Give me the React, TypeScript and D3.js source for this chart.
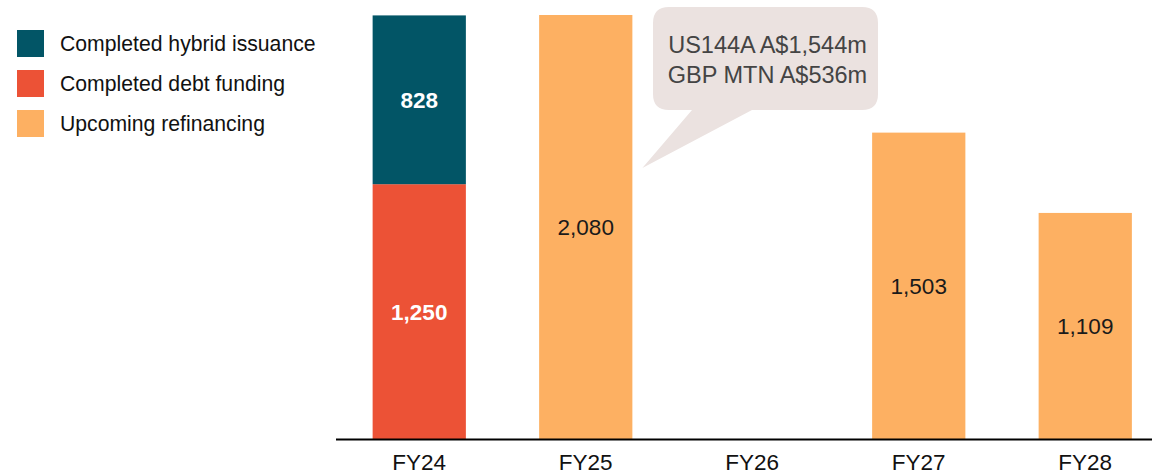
import React from "react";
import * as d3 from "d3";

const categories = ["FY24", "FY25", "FY26", "FY27", "FY28"];
const hybridIssuance = [828, 0, 0, 0, 0];
const debtFunding = [1250, 0, 0, 0, 0];
const upcomingRefinancing = [0, 2080, 0, 1503, 1109];
const seriesNames = ["Completed hybrid issuance", "Completed debt funding", "Upcoming refinancing"];
const seriesColors = ["#025566", "#ec5236", "#fdb062"];
const calloutLines = ["US144A A$1,544m", "GBP MTN A$536m"];

const W = 1152;
const H = 474;
const FONT = "Arial, 'Liberation Sans', sans-serif";

export default function App() {
  const x = d3
    .scaleBand<string>()
    .domain(categories)
    .range([336, 1168.5])
    .paddingInner(0.44)
    .paddingOuter(0.22);
  const y = d3.scaleLinear().domain([0, 2080]).range([439, 15]);

  const rows = categories.map((c, i) => ({
    cat: c,
    hybrid: hybridIssuance[i],
    debt: debtFunding[i],
    upcoming: upcomingRefinancing[i],
  }));
  const stack = d3.stack<any>().keys(["debt", "hybrid", "upcoming"])(rows);
  const colorOf: Record<string, string> = {
    hybrid: seriesColors[0],
    debt: seriesColors[1],
    upcoming: seriesColors[2],
  };
  const labelStyle: Record<string, { fill: string; weight: string }> = {
    hybrid: { fill: "#ffffff", weight: "bold" },
    debt: { fill: "#ffffff", weight: "bold" },
    upcoming: { fill: "#1a1a1a", weight: "normal" },
  };
  const fmt = d3.format(",");

  const fy25 = x("FY25")! + x.bandwidth();
  const bx = 653, by = 7, bw = 225, bh = 103, r = 16;
  const tailA = 692, tailB = 752;
  const tip: [number, number] = [fy25 + 10, 168];
  const calloutPath =
    `M${bx + r},${by} H${bx + bw - r} Q${bx + bw},${by} ${bx + bw},${by + r} ` +
    `V${by + bh - r} Q${bx + bw},${by + bh} ${bx + bw - r},${by + bh} ` +
    `H${tailB} L${tip[0]},${tip[1]} L${tailA},${by + bh} ` +
    `H${bx + r} Q${bx},${by + bh} ${bx},${by + bh - r} V${by + r} Q${bx},${by} ${bx + r},${by} Z`;

  return (
    <svg width={W} height={H} style={{ position: "absolute", left: 0, top: 0, background: "#fff" }} fontFamily={FONT}>
      {seriesNames.map((n, i) => (
        <g key={n} transform={`translate(17, ${30 + i * 40})`}>
          <rect width={27} height={27} fill={seriesColors[i]} />
          <text x={43} y={21} fontSize={21.2} fill="#111">
            {n}
          </text>
        </g>
      ))}

      {stack.map((layer) =>
        layer.map((d, i) => {
          const v = d[1] - d[0];
          if (v <= 0) return null;
          const key = layer.key;
          const x0 = x(categories[i])!;
          const y0 = y(d[1]);
          const hgt = y(d[0]) - y(d[1]);
          const st = labelStyle[key];
          return (
            <g key={key + i}>
              <rect x={x0} y={y0} width={x.bandwidth()} height={hgt} fill={colorOf[key]} />
              <text
                x={x0 + x.bandwidth() / 2}
                y={y0 + hgt / 2 + 8}
                textAnchor="middle"
                fontSize={key === "upcoming" ? 22.5 : 22.5}
                fontWeight={st.weight}
                fill={st.fill}
              >
                {fmt(v)}
              </text>
            </g>
          );
        })
      )}

      <line x1={336} x2={W} y1={y(0) + 0.5} y2={y(0) + 0.5} stroke="#000" strokeWidth={2} />
      {categories.map((c) => (
        <text key={c} x={x(c)! + x.bandwidth() / 2} y={470} textAnchor="middle" fontSize={22.5} fill="#111">
          {c}
        </text>
      ))}

      <path d={calloutPath} fill="#ebe2e0" />
      {calloutLines.map((t, i) => (
        <text key={t} x={bx + bw / 2 + 2} y={53 + i * 29.5} textAnchor="middle" fontSize={23.5} fill="#444">
          {t}
        </text>
      ))}
    </svg>
  );
}
